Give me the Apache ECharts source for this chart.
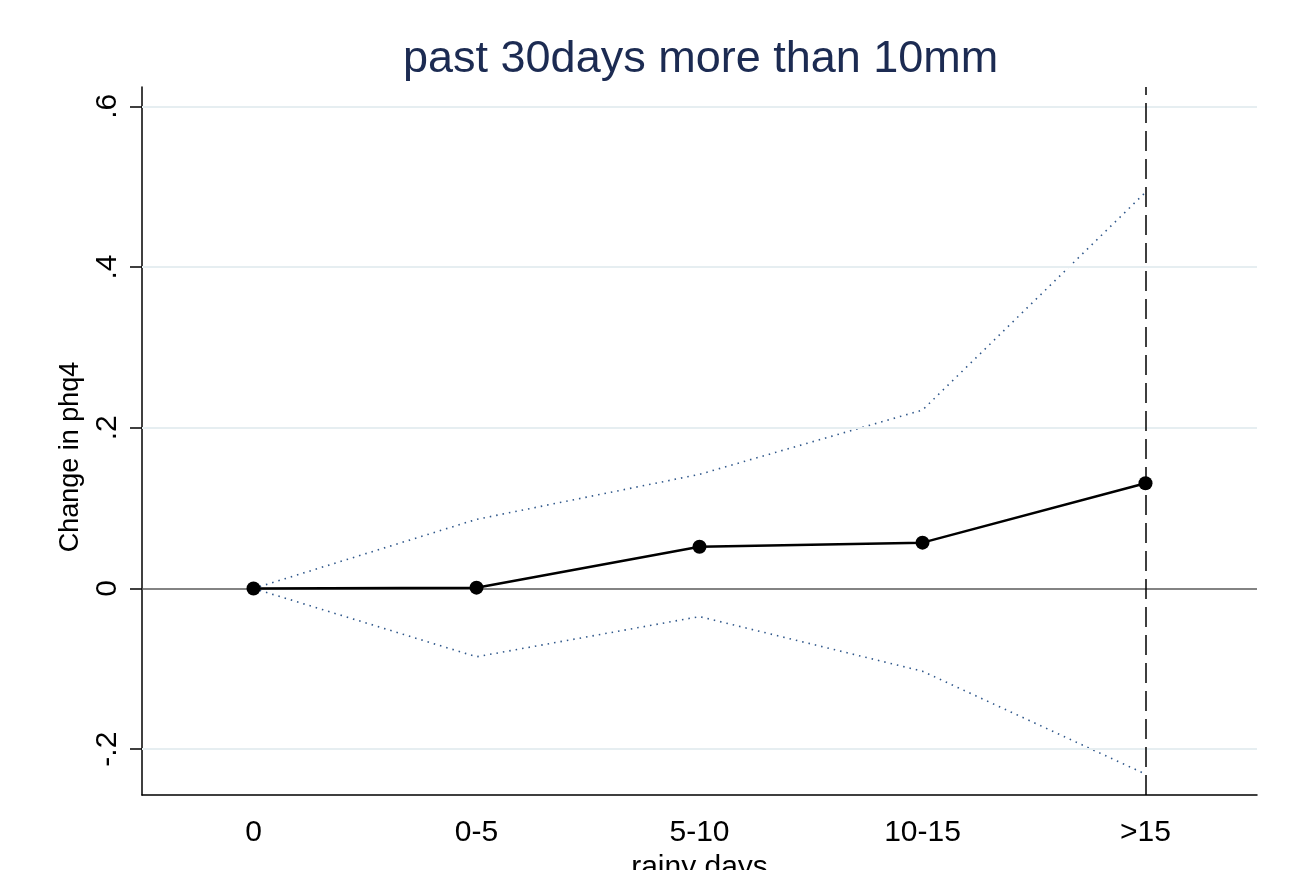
<!DOCTYPE html>
<html>
<head>
<meta charset="utf-8">
<script src="https://cdn.jsdelivr.net/npm/echarts@6/dist/echarts.min.js"></script>
<style>html,body{margin:0;padding:0;background:#fff;}#c{width:1306px;height:870px;}</style>
</head>
<body>
<div id="c"></div>
<script>
const categories = ['0', '0-5', '5-10', '10-15', '>15'];
const estimate = [0, 0.001, 0.052, 0.057, 0.131];
const upperCI = [0, 0.086, 0.142, 0.222, 0.493];
const lowerCI = [0, -0.085, -0.035, -0.103, -0.231];
const yTicks = [-0.2, 0, 0.2, 0.4, 0.6];
const yMin = -0.257, yMax = 0.624;
const refCategory = '>15';

const fmt = v => {
  if (Math.abs(v) < 1e-9) return '0';
  const s = String(Math.abs(Math.round(v * 10) / 10)).replace(/^0/, '');
  return (v < 0 ? '-' : '') + s;
};

const chart = echarts.init(document.getElementById('c'));
const font = 'Liberation Sans, Arial, sans-serif';
chart.setOption({
  backgroundColor: '#ffffff',
  animation: false,
  title: {
    text: 'past 30days more than 10mm',
    left: 398,
    top: 32,
    textStyle: { fontFamily: font, fontSize: 45, fontWeight: 'normal', color: '#1c2b52' }
  },
  grid: { left: 142, right: 49, top: 87, bottom: 75, containLabel: false, outerBoundsMode: 'none' },
  xAxis: {
    type: 'category',
    data: categories,
    boundaryGap: true,
    name: 'rainy days',
    nameLocation: 'middle',
    nameGap: 51,
    nameTextStyle: { fontFamily: font, fontSize: 30, color: '#000' },
    axisLine: { onZero: false, lineStyle: { color: '#000', width: 1.5 } },
    axisTick: { alignWithLabel: true, length: 13, lineStyle: { color: '#000', width: 1.5 } },
    axisLabel: { fontFamily: font, fontSize: 30, color: '#000', margin: 23 },
    splitLine: { show: false }
  },
  yAxis: {
    type: 'value',
    min: yMin,
    max: yMax,
    name: 'Change in phq4',
    nameLocation: 'middle',
    nameRotate: 90,
    nameGap: 58,
    nameTextStyle: { fontFamily: font, fontSize: 27, color: '#000', padding: [0, 32, 0, 0] },
    axisLine: { show: true, lineStyle: { color: '#000', width: 1.5 } },
    axisTick: { show: true, length: 12, customValues: yTicks, lineStyle: { color: '#000', width: 1.5 } },
    axisLabel: { fontFamily: font, fontSize: 30, color: '#000', rotate: 90, margin: 19, customValues: yTicks, formatter: fmt },
    splitLine: { show: false }
  },
  series: [
    {
      name: 'grid',
      type: 'line',
      data: [],
      z: 1,
      markLine: {
        silent: true,
        symbol: 'none',
        label: { show: false },
        lineStyle: { color: '#e6eef1', width: 2, type: 'solid' },
        data: yTicks.filter(v => v !== 0).map(v => ({ yAxis: v }))
      }
    },
    {
      name: 'zero',
      type: 'line',
      data: [],
      z: 2,
      markLine: {
        silent: true,
        symbol: 'none',
        label: { show: false },
        lineStyle: { color: '#5a5a5a', width: 1.5, type: 'solid' },
        data: [{ yAxis: 0 }, { xAxis: refCategory, lineStyle: { color: '#000', width: 1.5, type: [20, 8] } }]
      }
    },
    {
      name: 'upper',
      type: 'line',
      data: upperCI,
      z: 3,
      symbol: 'none',
      lineStyle: { color: '#2f578a', width: 1.6, type: [1.5, 5] }
    },
    {
      name: 'lower',
      type: 'line',
      data: lowerCI,
      z: 3,
      symbol: 'none',
      lineStyle: { color: '#2f578a', width: 1.6, type: [1.5, 5] }
    },
    {
      name: 'estimate',
      type: 'line',
      data: estimate,
      z: 5,
      symbol: 'circle',
      symbolSize: 14,
      itemStyle: { color: '#000' },
      lineStyle: { color: '#000', width: 2.5 }
    }
  ]
});
</script>
</body>
</html>
